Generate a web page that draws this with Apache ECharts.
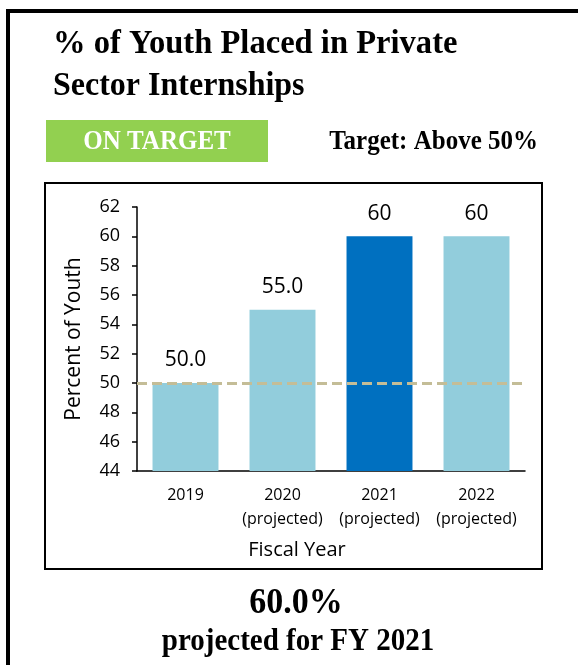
<!DOCTYPE html>
<html>
<head>
<meta charset="utf-8">
<script src="https://cdn.jsdelivr.net/npm/echarts@6/dist/echarts.min.js"></script>
<style>
  html, body { margin: 0; padding: 0; background: #fff; }
  #chart { width: 578px; height: 665px; }
</style>
</head>
<body>
<div id="chart"></div>
<script>
// Fiscal years and their status
var years = ['2019', '2020', '2021', '2022'];
var yearNotes = ['', '(projected)', '(projected)', '(projected)'];
// Percent of youth placed in private sector internships
var values = [50.0, 55.0, 60, 60];
var valueDecimals = [1, 1, 0, 0];
// 2021 is the highlighted year
var highlight = [false, false, true, false];
// Performance target (%)
var target = 50;
// Y axis tick range
var yMin = 44, yMax = 62, yStep = 2;

var serif = '"Liberation Serif", "Times New Roman", serif';
var sans = '"Open Sans", "Liberation Sans", sans-serif';

var categories = years.map(function (y, i) {
  return yearNotes[i] ? y + '\n' + yearNotes[i] : y;
});

var chart = echarts.init(document.getElementById('chart'), null, { renderer: 'canvas' });

function serifText(str, x, y, size, align, fill, sx) {
  return {
    type: 'text', x: x, y: y, scaleY: 1.06, scaleX: sx || 1,
    style: { text: str, font: 'bold ' + size + 'px ' + serif, fill: fill || '#000',
      textAlign: align, textVerticalAlign: 'middle' }
  };
}

chart.setOption({
  backgroundColor: '#ffffff',
  animation: false,
  grid: { left: 137, right: 53, top: 207, bottom: 194, containLabel: false },
  xAxis: {
    type: 'category',
    data: categories,
    axisLine: { show: true, lineStyle: { color: '#000', width: 1.5 } },
    axisTick: { show: false },
    axisLabel: {
      interval: 0,
      color: '#000', fontFamily: sans, fontSize: 16, lineHeight: 24, margin: 12
    }
  },
  yAxis: {
    type: 'value',
    min: yMin, max: yMax, interval: yStep,
    name: 'Percent of Youth',
    nameLocation: 'middle',
    nameGap: 52,
    nameTextStyle: { color: '#000', fontFamily: sans, fontSize: 21 },
    axisLine: { show: true, lineStyle: { color: '#000', width: 1.5 } },
    axisTick: { show: true, inside: false, length: 5, lineStyle: { color: '#000', width: 1.5 } },
    axisLabel: { color: '#000', fontFamily: sans, fontSize: 18, margin: 17 },
    splitLine: { show: false }
  },
  series: [{
    type: 'bar',
    barCategoryGap: '32%',
    data: values.map(function (v, i) {
      return { value: v, itemStyle: { color: highlight[i] ? '#0070C0' : '#92CDDC' } };
    }),
    label: {
      show: true, position: 'top', distance: 12,
      color: '#000', fontFamily: sans, fontSize: 21,
      formatter: function (p) { return p.value.toFixed(valueDecimals[p.dataIndex]); }
    },
    markLine: {
      silent: true,
      symbol: ['none', 'none'],
      label: { show: false },
      lineStyle: { color: '#C4BD97', width: 3, type: [10, 5] },
      data: [{ yAxis: target }]
    }
  }],
  graphic: [
    // outer frame
    { type: 'rect', shape: { x: 8, y: 11, width: 640, height: 720 },
      style: { fill: 'none', stroke: '#000', lineWidth: 4 }, z: 10 },
    // title
    serifText('% of Youth Placed in Private', 53, 44, 32, 'left', '#000', 1.018),
    serifText('Sector Internships', 53, 86, 32, 'left', '#000', 1.0),
    // status badge
    { type: 'rect', shape: { x: 46, y: 120, width: 222, height: 42 }, style: { fill: '#92D050' } },
    serifText('ON TARGET', 157, 142, 25, 'center', '#fff'),
    serifText('Target: Above 50%', 538, 142, 25, 'right'),
    // chart frame
    { type: 'rect', shape: { x: 45, y: 183, width: 497, height: 386 },
      style: { fill: 'none', stroke: '#000', lineWidth: 2 } },
    // x axis title
    { type: 'text', x: 297, y: 550, style: { text: 'Fiscal Year',
      font: '20px ' + sans, fill: '#000', textAlign: 'center', textVerticalAlign: 'middle' } },
    // summary
    serifText('60.0%', 296, 604, 34, 'center'),
    serifText('projected for FY 2021', 298, 642, 29, 'center')
  ]
});
</script>
</body>
</html>
